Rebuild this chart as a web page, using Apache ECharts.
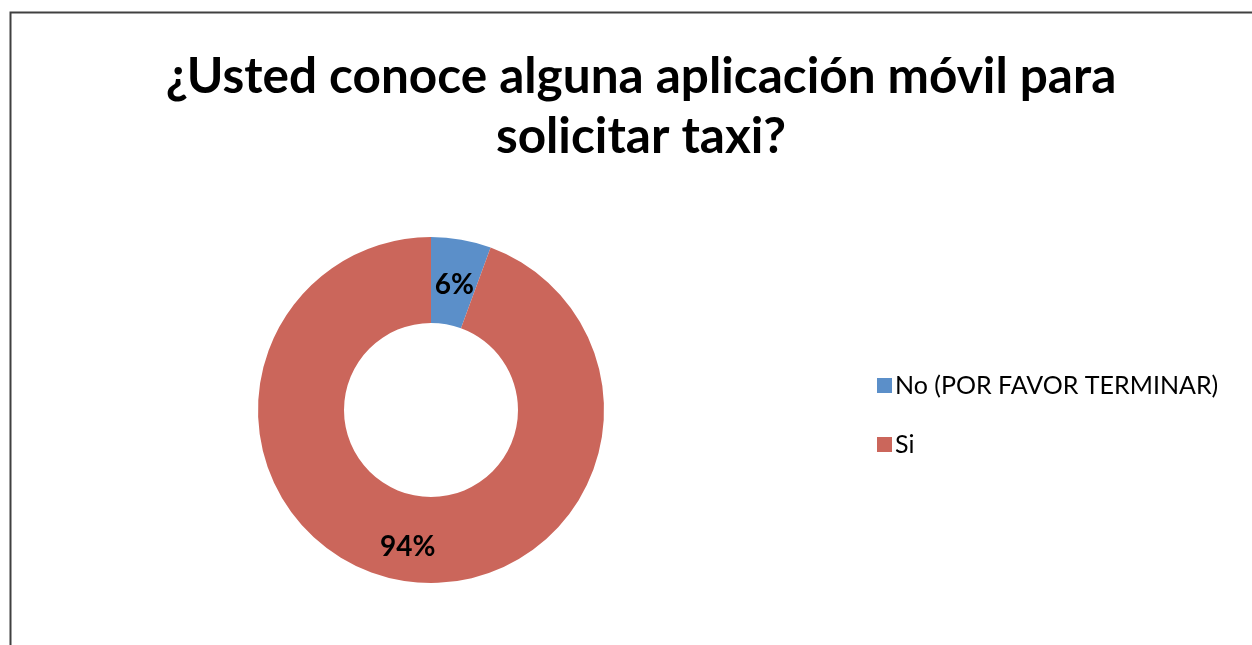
<!DOCTYPE html>
<html><head><meta charset="utf-8">
<script src="https://cdn.jsdelivr.net/npm/echarts@6/dist/echarts.min.js"></script>
<style>html,body{margin:0;padding:0;background:#fff}#c{width:1252px;height:645px}</style>
</head><body><div id="c"></div>
<script>
const titleText = '¿Usted conoce alguna aplicación móvil para\nsolicitar taxi?';
const categories = ['No (POR FAVOR TERMINAR)', 'Si'];
const values = [5.6, 94.4];
const colors = ['#5b8fc9', '#cb665b'];

const chart = echarts.init(document.getElementById('c'));
chart.setOption({
  animation: false,
  graphic: [{
    type: 'polyline', silent: true,
    shape: { points: [[10.5, 660], [10.5, 12.5], [1260, 12.5]] },
    style: { stroke: '#404040', lineWidth: 2, fill: null }
  }],
  title: {
    text: titleText, left: 636, textAlign: 'center', top: 42,
    textStyle: { fontFamily: 'Lato', fontWeight: 'bold', fontSize: 49.5, lineHeight: 60, color: '#000' }
  },
  legend: {
    orient: 'vertical', left: 872, top: 368, itemGap: 34,
    itemWidth: 15, itemHeight: 15, icon: 'rect',
    textStyle: { fontFamily: 'Lato', fontSize: 25, color: '#000', padding: [0, 0, 0, -2] },
    data: categories
  },
  series: [{
    type: 'pie', center: [431, 410], radius: [87, 173],
    startAngle: 90, clockwise: true,
    label: { show: true, position: 'inside', formatter: p => Math.round(p.percent) + '%', fontFamily: 'Lato', fontWeight: 'bold', fontSize: 28, color: '#000', offset: [0, 6] },
    labelLine: { show: false },
    itemStyle: { borderWidth: 0 },
    emphasis: { disabled: true },
    data: categories.map((n, i) => ({ name: n, value: values[i], itemStyle: { color: colors[i] } }))
  }]
});
</script></body></html>
